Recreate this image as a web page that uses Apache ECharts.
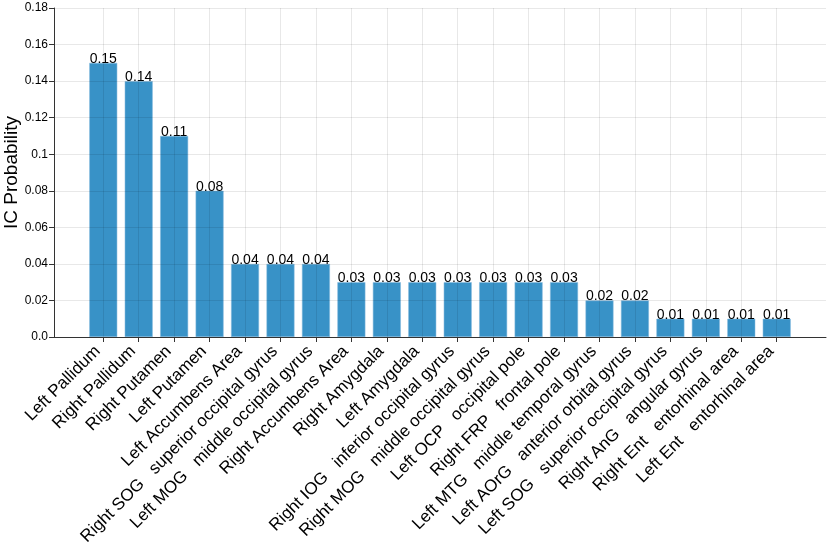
<!DOCTYPE html>
<html>
<head>
<meta charset="utf-8">
<script src="https://cdn.jsdelivr.net/npm/echarts@6/dist/echarts.min.js"></script>
<style>
  html, body { margin: 0; padding: 0; background: #fff; }
  #chart { width: 830px; height: 554px; }
</style>
</head>
<body>
<div id="chart"></div>
<script>
// regions (abbreviation + full name where there is one)
var regions = [
  'Left Pallidum', 'Right Pallidum', 'Right Putamen', 'Left Putamen',
  'Left Accumbens Area', 'Right SOG   superior occipital gyrus',
  'Left MOG   middle occipital gyrus', 'Right Accumbens Area',
  'Right Amygdala', 'Left Amygdala', 'Right IOG   inferior occipital gyrus',
  'Right MOG   middle occipital gyrus', 'Left OCP   occipital pole',
  'Right FRP   frontal pole', 'Left MTG   middle temporal gyrus',
  'Left AOrG   anterior orbital gyrus', 'Left SOG   superior occipital gyrus',
  'Right AnG   angular gyrus', 'Right Ent   entorhinal area',
  'Left Ent   entorhinal area'
];
var probs = [0.15, 0.14, 0.11, 0.08, 0.04, 0.04, 0.04, 0.03, 0.03, 0.03,
             0.03, 0.03, 0.03, 0.03, 0.02, 0.02, 0.01, 0.01, 0.01, 0.01];
var yTicks = [0, 0.02, 0.04, 0.06, 0.08, 0.1, 0.12, 0.14, 0.16, 0.18];

var idx = regions.map(function (r, i) { return i; });
var font = 'Liberation Sans';
var gridColor = 'rgba(0,0,0,0.09)'; // drawn over the bars, like the original

var option = {
  animation: false,
  backgroundColor: '#fff',
  grid: { left: 54, right: 4, top: 8, bottom: 217, containLabel: false, outerBoundsMode: 'none' },
  xAxis: {
    type: 'value',
    z: 3,
    min: -1.39,
    max: 20.39,
    axisLine: { show: true, onZero: false, lineStyle: { color: '#333', width: 1 } },
    axisTick: { show: true, length: 5, customValues: idx, lineStyle: { color: '#333' } },
    axisLabel: {
      customValues: idx,
      rotate: 45,
      margin: 6,
      padding: [0, 8, 0, 0],
      fontSize: 17,
      fontFamily: font,
      color: '#000',
      formatter: function (v) { return regions[Math.round(v)]; }
    },
    splitLine: { show: true, lineStyle: { color: gridColor, width: 1 } }
  },
  yAxis: {
    type: 'value',
    z: 3,
    min: yTicks[0],
    max: yTicks[yTicks.length - 1],
    interval: 0.02,
    name: 'IC Probability',
    nameLocation: 'middle',
    nameGap: 33,
    nameMoveOverlap: false,
    nameTextStyle: { fontSize: 19, fontFamily: font, color: '#000' },
    axisLine: { show: true, onZero: false, lineStyle: { color: '#333', width: 1 } },
    axisTick: { show: true, length: 5, lineStyle: { color: '#333' } },
    axisLabel: {
      fontSize: 12,
      fontFamily: font,
      color: '#000',
      margin: 6,
      formatter: function (v) {
        var r = Math.round(v * 100) / 100;
        return r === 0 ? '0.0' : String(r);
      }
    },
    splitLine: { show: true, lineStyle: { color: gridColor, width: 1 } }
  },
  series: [{
    type: 'bar',
    z: 2,
    barWidth: 28,
    data: probs.map(function (p, i) { return [i, p]; }),
    itemStyle: {
      color: 'rgba(23,128,190,0.86)',
      borderColor: 'rgba(130,185,222,0.9)',
      borderWidth: 0.6
    },
    label: {
      show: true,
      position: 'top',
      distance: -3,
      fontSize: 14,
      fontFamily: font,
      color: '#000',
      formatter: function (p) { return p.value[1].toFixed(2); }
    }
  }]
};

var chart = echarts.init(document.getElementById('chart'));
chart.setOption(option);
</script>
</body>
</html>
